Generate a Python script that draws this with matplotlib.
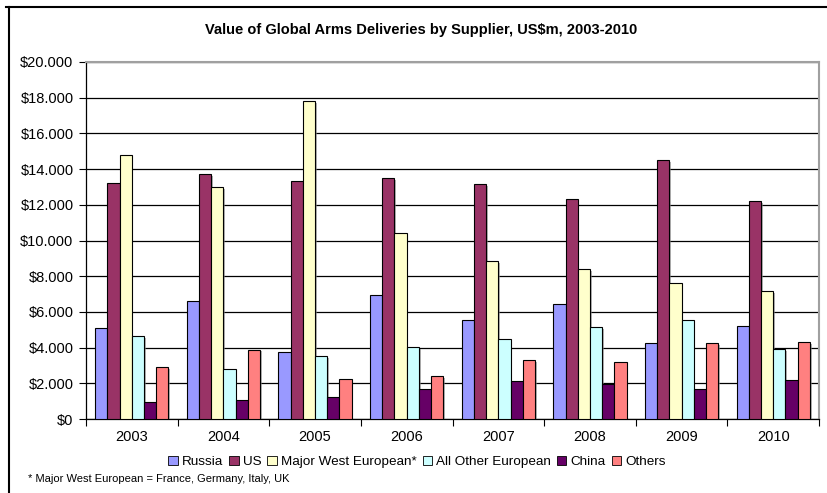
import matplotlib
matplotlib.use("Agg")
import matplotlib.pyplot as plt
import matplotlib.patheffects as pe
from matplotlib.lines import Line2D
import numpy as np

plt.rcParams['font.family'] = ['Liberation Sans', 'DejaVu Sans']

years = ["2003", "2004", "2005", "2006", "2007", "2008", "2009", "2010"]
series_names = ["Russia", "US", "Major West European*", "All Other European", "China", "Others"]
russia = [5080, 6610, 3730, 6930, 5540, 6420, 4240, 5190]
us = [13200, 13700, 13330, 13480, 13140, 12320, 14500, 12190]
major_west = [14770, 12970, 17810, 10400, 8830, 8380, 7620, 7170]
other_european = [4630, 2820, 3530, 4030, 4460, 5130, 5540, 3900]
china = [930, 1060, 1250, 1660, 2110, 1940, 1700, 2180]
others = [2910, 3880, 2260, 2410, 3290, 3170, 4240, 4290]
colors = ["#9999FF", "#993366", "#FFFFCC", "#CCFFFF", "#660066", "#FF8080"]
yticks = list(range(0, 20001, 2000))

data = [russia, us, major_west, other_european, china, others]

fig = plt.figure(figsize=(8.27, 4.93), dpi=100)
ax = fig.add_axes([86/827, 1-419/493, (819-86)/827, (419-62)/493])

x = np.arange(len(years))
n = len(data)
w = 0.8 / n
shadow = [pe.SimplePatchShadow(offset=(1.2, -1.2), shadow_rgbFace='#808080', alpha=0.6), pe.Normal()]
for i, (vals, c) in enumerate(zip(data, colors)):
    bars = ax.bar(x - 0.4 + w * (i + 0.5), vals, width=w, color=c, edgecolor='black',
                  linewidth=0.8, label=series_names[i], zorder=3)
    for b in bars:
        b.set_path_effects(shadow)

ax.set_xlim(-0.5, len(years) - 0.5)
ax.set_ylim(0, 20000)
ax.set_yticks(yticks)
ax.set_yticklabels(["$0" if v == 0 else "${:,}".format(v).replace(",", ".") for v in yticks], fontsize=10.5)
ax.yaxis.grid(True, color='black', linewidth=0.9, zorder=0)
ax.set_axisbelow(True)

ax.set_xticks(x)
ax.set_xticklabels(years, fontsize=10.5)
ax.tick_params(axis='x', which='major', length=0, pad=8)
ax.set_xticks(np.arange(-0.5, len(years)), minor=True)
ax.tick_params(axis='x', which='minor', length=5, width=0.8, direction='out')
ax.tick_params(axis='y', length=5, width=0.8, direction='out', pad=4)

for s in ['left', 'bottom']:
    ax.spines[s].set_color('black')
    ax.spines[s].set_linewidth(0.9)
for s in ['top', 'right']:
    ax.spines[s].set_color('#A0A0A0')
    ax.spines[s].set_linewidth(1.5)

fig.text(421/827, 1-30/493, "Value of Global Arms Deliveries by Supplier, US$m, 2003-2010",
         ha='center', va='center', fontsize=10.5, fontweight='bold')

handles = [plt.Rectangle((0, 0), 1, 1, facecolor=c, edgecolor='black', linewidth=0.6) for c in colors]
fig.legend(handles, series_names, loc='center', bbox_to_anchor=(417/827, 1-462/493), ncol=6,
           frameon=False, fontsize=9.7, handlelength=0.7, handleheight=0.7, handletextpad=0.3,
           columnspacing=0.45, borderpad=0)

fig.text(28/827, 1-479/493, "* Major West European = France, Germany, Italy, UK", ha='left', va='center', fontsize=8)

# figure frame (top and left)
fig.add_artist(Line2D([6/827, 1.0], [1-7/493, 1-7/493], color='black', linewidth=1.5, transform=fig.transFigure))
fig.add_artist(Line2D([9/827, 9/827], [0, 1-7/493], color='black', linewidth=1.5, transform=fig.transFigure))

fig.savefig("out.png", dpi=100)
